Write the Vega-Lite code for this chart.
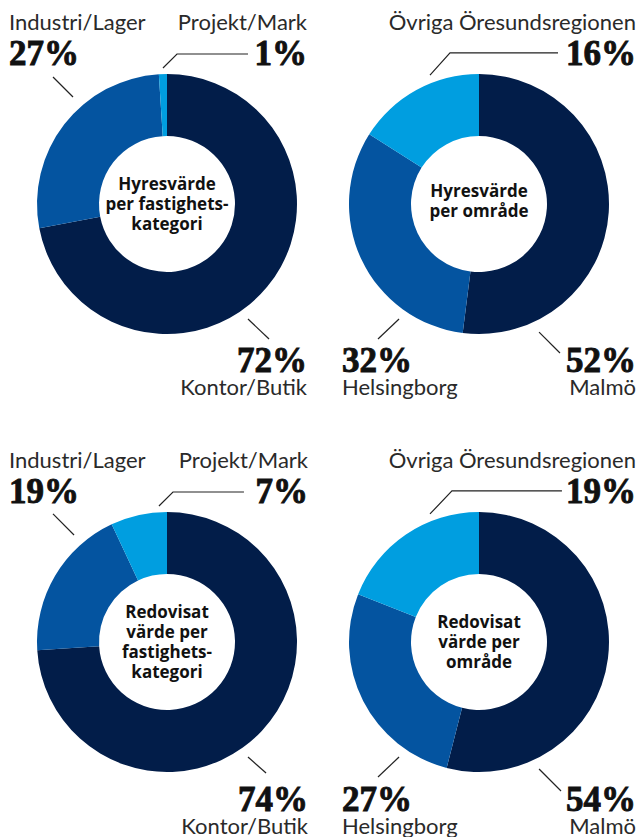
{
  "$schema": "https://vega.github.io/schema/vega-lite/v6.json",
  "autosize": {"type": "pad"},
  "padding": 0,
  "background": "white",
  "columns": 2,
  "spacing": {"row": 39, "column": 0},
  "bounds": "flush",
  "resolve": {"scale": {"x": "independent", "y": "independent", "shape": "independent"}},
  "config": {"view": {"stroke": null}},
  "concat": [
    {
      "width": 334, "height": 408,
      "data": {"values": [
        {"cat": "Kontor/Butik", "value": 0.72, "side": "right", "level": "bottom"},
        {"cat": "Industri/Lager", "value": 0.27, "side": "left", "level": "top"},
        {"cat": "Projekt/Mark", "value": 0.01, "side": "right", "level": "top"}
      ]},
      "resolve": {"scale": {"y": "independent"}},
      "layer": [
        {"mark": {"type": "arc", "innerRadius": 68, "outerRadius": 130},
         "encoding": {
           "theta": {"field": "value", "type": "quantitative", "stack": true},
           "order": {"field": "value", "sort": "descending"},
           "color": {"field": "cat", "type": "nominal", "legend": null,
             "scale": {"domain": ["Kontor/Butik", "Industri/Lager", "Projekt/Mark", "Malmö", "Helsingborg", "Övriga Öresundsregionen"],
                       "range": ["#021d49", "#0454a0", "#009ee0", "#021d49", "#0454a0", "#009ee0"]}}}},
        {"mark": {"type": "point", "filled": false, "size": 67600, "color": "#222222", "strokeWidth": 1.2, "opacity": 1},
         "encoding": {"shape": {"field": "cat", "type": "nominal", "legend": null,
           "scale": {"domain": ["Industri/Lager", "Projekt/Mark", "Kontor/Butik"],
                     "range": ["M-0.877,-0.977L-0.723,-0.823", "M-0.031,-1.046L0.077,-1.154L0.623,-1.154", "M0.623,0.885L0.785,1.038"]}}}},
        {"data": {"values": [{"title": "Hyresvärde\nper fastighets-\nkategori"}]},
         "mark": {"type": "text", "font": "Open Sans", "fontWeight": "bold", "fontSize": 17, "lineHeight": 20, "lineBreak": "\n", "align": "center", "baseline": "middle", "dy": -19, "color": "#111111"},
         "encoding": {"text": {"field": "title", "type": "nominal"}}},
        {"mark": {"type": "text", "font": "Liberation Serif", "fontWeight": "bold", "fontSize": 35, "align": {"expr": "datum.side"}, "baseline": "alphabetic", "color": "#111111", "stroke": "#111111", "strokeWidth": 0.9},
         "encoding": {
           "x": {"field": "side", "type": "nominal", "axis": null, "scale": {"type": "point", "domain": ["left", "right"], "range": [9, 307], "padding": 0}},
           "y": {"field": "level", "type": "nominal", "axis": null, "scale": {"type": "point", "domain": ["top", "bottom"], "range": [65, 372], "padding": 0}},
           "text": {"field": "value", "type": "quantitative", "format": ".0%"}}},
        {"mark": {"type": "text", "font": "Lato", "fontSize": 22, "align": {"expr": "datum.side"}, "baseline": "alphabetic", "color": "#2a2a2a"},
         "encoding": {
           "x": {"field": "side", "type": "nominal", "axis": null, "scale": {"type": "point", "domain": ["left", "right"], "range": [9, 307], "padding": 0}},
           "y": {"field": "level", "type": "nominal", "axis": null, "scale": {"type": "point", "domain": ["top", "bottom"], "range": [30, 395], "padding": 0}},
           "text": {"field": "cat", "type": "nominal"}}}
      ]
    },
    {
      "width": 290, "height": 408,
      "data": {"values": [
        {"cat": "Malmö", "value": 0.52, "side": "right", "level": "bottom"},
        {"cat": "Helsingborg", "value": 0.32, "side": "left", "level": "bottom"},
        {"cat": "Övriga Öresundsregionen", "value": 0.16, "side": "right", "level": "top"}
      ]},
      "resolve": {"scale": {"y": "independent"}},
      "layer": [
        {"mark": {"type": "arc", "innerRadius": 68, "outerRadius": 130},
         "encoding": {
           "theta": {"field": "value", "type": "quantitative", "stack": true},
           "order": {"field": "value", "sort": "descending"},
           "color": {"field": "cat", "type": "nominal", "legend": null,
             "scale": {"domain": ["Kontor/Butik", "Industri/Lager", "Projekt/Mark", "Malmö", "Helsingborg", "Övriga Öresundsregionen"],
                       "range": ["#021d49", "#0454a0", "#009ee0", "#021d49", "#0454a0", "#009ee0"]}}}},
        {"mark": {"type": "point", "filled": false, "size": 67600, "color": "#222222", "strokeWidth": 1.2, "opacity": 1},
         "encoding": {"shape": {"field": "cat", "type": "nominal", "legend": null,
           "scale": {"domain": ["Övriga Öresundsregionen", "Helsingborg", "Malmö"],
                     "range": ["M-0.377,-0.992L-0.223,-1.162L0.608,-1.162", "M-0.615,0.885L-0.777,1.038", "M0.462,0.985L0.623,1.146"]}}}},
        {"data": {"values": [{"title": "Hyresvärde\nper område"}]},
         "mark": {"type": "text", "font": "Open Sans", "fontWeight": "bold", "fontSize": 17, "lineHeight": 20, "lineBreak": "\n", "align": "center", "baseline": "middle", "dy": -12, "color": "#111111"},
         "encoding": {"text": {"field": "title", "type": "nominal"}}},
        {"mark": {"type": "text", "font": "Liberation Serif", "fontWeight": "bold", "fontSize": 35, "align": {"expr": "datum.side"}, "baseline": "alphabetic", "color": "#111111", "stroke": "#111111", "strokeWidth": 0.9},
         "encoding": {
           "x": {"field": "side", "type": "nominal", "axis": null, "scale": {"type": "point", "domain": ["left", "right"], "range": [8, 302], "padding": 0}},
           "y": {"field": "level", "type": "nominal", "axis": null, "scale": {"type": "point", "domain": ["top", "bottom"], "range": [65, 372], "padding": 0}},
           "text": {"field": "value", "type": "quantitative", "format": ".0%"}}},
        {"mark": {"type": "text", "font": "Lato", "fontSize": 22, "align": {"expr": "datum.side"}, "baseline": "alphabetic", "color": "#2a2a2a"},
         "encoding": {
           "x": {"field": "side", "type": "nominal", "axis": null, "scale": {"type": "point", "domain": ["left", "right"], "range": [8, 302], "padding": 0}},
           "y": {"field": "level", "type": "nominal", "axis": null, "scale": {"type": "point", "domain": ["top", "bottom"], "range": [30, 395], "padding": 0}},
           "text": {"field": "cat", "type": "nominal"}}}
      ]
    },
    {
      "width": 334, "height": 390,
      "data": {"values": [
        {"cat": "Kontor/Butik", "value": 0.74, "side": "right", "level": "bottom"},
        {"cat": "Industri/Lager", "value": 0.19, "side": "left", "level": "top"},
        {"cat": "Projekt/Mark", "value": 0.07, "side": "right", "level": "top"}
      ]},
      "resolve": {"scale": {"y": "independent"}},
      "layer": [
        {"mark": {"type": "arc", "innerRadius": 68, "outerRadius": 130},
         "encoding": {
           "theta": {"field": "value", "type": "quantitative", "stack": true},
           "order": {"field": "value", "sort": "descending"},
           "color": {"field": "cat", "type": "nominal", "legend": null,
             "scale": {"domain": ["Kontor/Butik", "Industri/Lager", "Projekt/Mark", "Malmö", "Helsingborg", "Övriga Öresundsregionen"],
                       "range": ["#021d49", "#0454a0", "#009ee0", "#021d49", "#0454a0", "#009ee0"]}}}},
        {"mark": {"type": "point", "filled": false, "size": 67600, "color": "#222222", "strokeWidth": 1.2, "opacity": 1},
         "encoding": {"shape": {"field": "cat", "type": "nominal", "legend": null,
           "scale": {"domain": ["Industri/Lager", "Projekt/Mark", "Kontor/Butik"],
                     "range": ["M-0.877,-0.985L-0.715,-0.823", "M-0.062,-1.046L0.046,-1.154L0.592,-1.154", "M0.623,0.885L0.762,1.008"]}}}},
        {"data": {"values": [{"title": "Redovisat\nvärde per\nfastighets-\nkategori"}]},
         "mark": {"type": "text", "font": "Open Sans", "fontWeight": "bold", "fontSize": 17, "lineHeight": 20, "lineBreak": "\n", "align": "center", "baseline": "middle", "dy": -29, "color": "#111111"},
         "encoding": {"text": {"field": "title", "type": "nominal"}}},
        {"mark": {"type": "text", "font": "Liberation Serif", "fontWeight": "bold", "fontSize": 35, "align": {"expr": "datum.side"}, "baseline": "alphabetic", "color": "#111111", "stroke": "#111111", "strokeWidth": 0.9},
         "encoding": {
           "x": {"field": "side", "type": "nominal", "axis": null, "scale": {"type": "point", "domain": ["left", "right"], "range": [9, 308], "padding": 0}},
           "y": {"field": "level", "type": "nominal", "axis": null, "scale": {"type": "point", "domain": ["top", "bottom"], "range": [56, 364], "padding": 0}},
           "text": {"field": "value", "type": "quantitative", "format": ".0%"}}},
        {"mark": {"type": "text", "font": "Lato", "fontSize": 22, "align": {"expr": "datum.side"}, "baseline": "alphabetic", "color": "#2a2a2a"},
         "encoding": {
           "x": {"field": "side", "type": "nominal", "axis": null, "scale": {"type": "point", "domain": ["left", "right"], "range": [9, 308], "padding": 0}},
           "y": {"field": "level", "type": "nominal", "axis": null, "scale": {"type": "point", "domain": ["top", "bottom"], "range": [21, 387], "padding": 0}},
           "text": {"field": "cat", "type": "nominal"}}}
      ]
    },
    {
      "width": 290, "height": 390,
      "data": {"values": [
        {"cat": "Malmö", "value": 0.54, "side": "right", "level": "bottom"},
        {"cat": "Helsingborg", "value": 0.27, "side": "left", "level": "bottom"},
        {"cat": "Övriga Öresundsregionen", "value": 0.19, "side": "right", "level": "top"}
      ]},
      "resolve": {"scale": {"y": "independent"}},
      "layer": [
        {"mark": {"type": "arc", "innerRadius": 68, "outerRadius": 130},
         "encoding": {
           "theta": {"field": "value", "type": "quantitative", "stack": true},
           "order": {"field": "value", "sort": "descending"},
           "color": {"field": "cat", "type": "nominal", "legend": null,
             "scale": {"domain": ["Kontor/Butik", "Industri/Lager", "Projekt/Mark", "Malmö", "Helsingborg", "Övriga Öresundsregionen"],
                       "range": ["#021d49", "#0454a0", "#009ee0", "#021d49", "#0454a0", "#009ee0"]}}}},
        {"mark": {"type": "point", "filled": false, "size": 67600, "color": "#222222", "strokeWidth": 1.2, "opacity": 1},
         "encoding": {"shape": {"field": "cat", "type": "nominal", "legend": null,
           "scale": {"domain": ["Övriga Öresundsregionen", "Helsingborg", "Malmö"],
                     "range": ["M-0.377,-0.985L-0.208,-1.162L0.638,-1.162", "M-0.615,0.885L-0.777,1.038", "M0.462,0.977L0.631,1.146"]}}}},
        {"data": {"values": [{"title": "Redovisat\nvärde per\nområde"}]},
         "mark": {"type": "text", "font": "Open Sans", "fontWeight": "bold", "fontSize": 17, "lineHeight": 20, "lineBreak": "\n", "align": "center", "baseline": "middle", "dy": -19, "color": "#111111"},
         "encoding": {"text": {"field": "title", "type": "nominal"}}},
        {"mark": {"type": "text", "font": "Liberation Serif", "fontWeight": "bold", "fontSize": 35, "align": {"expr": "datum.side"}, "baseline": "alphabetic", "color": "#111111", "stroke": "#111111", "strokeWidth": 0.9},
         "encoding": {
           "x": {"field": "side", "type": "nominal", "axis": null, "scale": {"type": "point", "domain": ["left", "right"], "range": [8, 302], "padding": 0}},
           "y": {"field": "level", "type": "nominal", "axis": null, "scale": {"type": "point", "domain": ["top", "bottom"], "range": [56, 364], "padding": 0}},
           "text": {"field": "value", "type": "quantitative", "format": ".0%"}}},
        {"mark": {"type": "text", "font": "Lato", "fontSize": 22, "align": {"expr": "datum.side"}, "baseline": "alphabetic", "color": "#2a2a2a"},
         "encoding": {
           "x": {"field": "side", "type": "nominal", "axis": null, "scale": {"type": "point", "domain": ["left", "right"], "range": [8, 302], "padding": 0}},
           "y": {"field": "level", "type": "nominal", "axis": null, "scale": {"type": "point", "domain": ["top", "bottom"], "range": [21, 387], "padding": 0}},
           "text": {"field": "cat", "type": "nominal"}}}
      ]
    }
  ]
}
